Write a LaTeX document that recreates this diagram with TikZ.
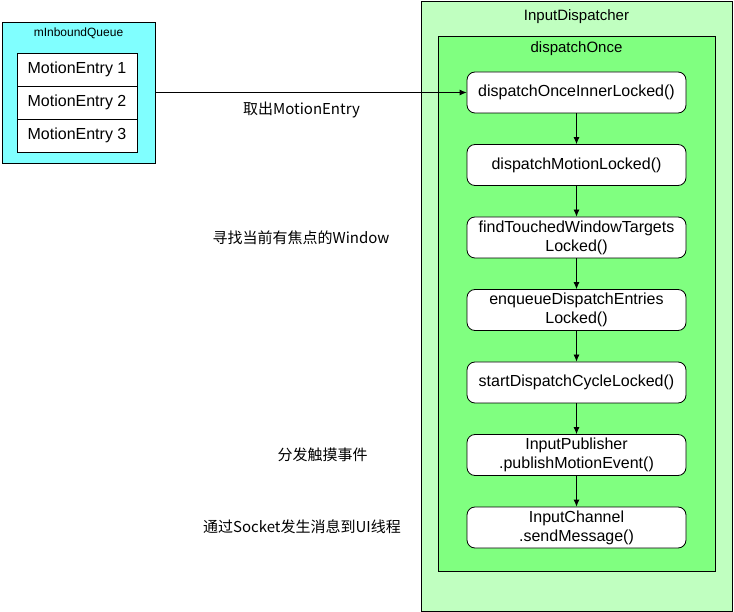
\documentclass[tikz,border=0pt]{standalone}
\usepackage{fontspec}
\setmainfont{Liberation Sans}
\newfontfamily\cjk{Noto Sans CJK SC}
\usetikzlibrary{positioning, arrows.meta}
\definecolor{queuecyan}{HTML}{80FFFF}
\definecolor{outergreen}{HTML}{C0FFC0}
\definecolor{innergreen}{HTML}{80FF80}

\begin{document}
\begin{tikzpicture}[x=1pt, y=-1pt, line width=0.8pt, >={Latex[length=7pt,width=6pt]}, node distance=72.5pt,
  box/.style = {draw, inner sep=0pt},
  title/.style = {font=\fontsize{15}{18}\selectfont},
  func/.style = {draw, fill=white, rounded corners=8pt, inner sep=2pt, minimum width=219pt, minimum height=41pt, align=center, font=\fontsize{16}{19}\selectfont},
  entry/.style = {draw, fill=white, minimum width=120pt, minimum height=33pt, font=\fontsize{16}{19}\selectfont},
  note/.style = {font=\cjk\fontsize{15}{18}\selectfont}]
\useasboundingbox (0,0) rectangle (734,612);

% containers
\node[box, fill=outergreen, minimum width=311pt, minimum height=610pt] (dispatcher) at (576.5,306) {};
\node[title] (dispatchertitle) at (576.5,17) {InputDispatcher};
\node[box, fill=innergreen, minimum width=277pt, minimum height=535pt] (once) at (576.5,303.5) {};
\node[title] (oncetitle) at (576.5,49) {dispatchOnce};
\node[box, fill=queuecyan, minimum width=153pt, minimum height=141pt] (queue) at (78.5,92.5) {};
\node[font=\fontsize{12}{14}\selectfont] (queuetitle) at (78.5,33) {mInboundQueue};

% queue entries
\node[entry] (e1) at (77,69.5) {MotionEntry 1};
\node[entry] (e2) [below of=e1, node distance=33pt] {MotionEntry 2};
\node[entry] (e3) [below of=e2, node distance=33pt] {MotionEntry 3};

% call chain
\node[func] (n1) at (576.5,92.5) {dispatchOnceInnerLocked()};
\node[func] (n2) [below of=n1, node distance=72.5pt] {dispatchMotionLocked()};
\node[func] (n3) [below of=n2] {findTouchedWindowTargets\\Locked()};
\node[func] (n4) [below of=n3] {enqueueDispatchEntries\\Locked()};
\node[func] (n5) [below of=n4] {startDispatchCycleLocked()};
\node[func] (n6) [below of=n5] {InputPublisher\\.publishMotionEvent()};
\node[func] (n7) [below of=n6] {InputChannel\\.sendMessage()};

\draw[->] (queue.east |- n1) -- (n1);
\draw[->] (n1) -- (n2);
\draw[->] (n2) -- (n3);
\draw[->] (n3) -- (n4);
\draw[->] (n4) -- (n5);
\draw[->] (n5) -- (n6);
\draw[->] (n6) -- (n7);

% notes
\node[note] (take) at (301.5,110) {取出MotionEntry};
\node[note] (find) at (301,237.5) {寻找当前有焦点的Window};
\node[note] (send) at (322.5,455) {分发触摸事件};
\node[note] (sock) at (302,527) {通过Socket发生消息到UI线程};
\end{tikzpicture}
\end{document}
